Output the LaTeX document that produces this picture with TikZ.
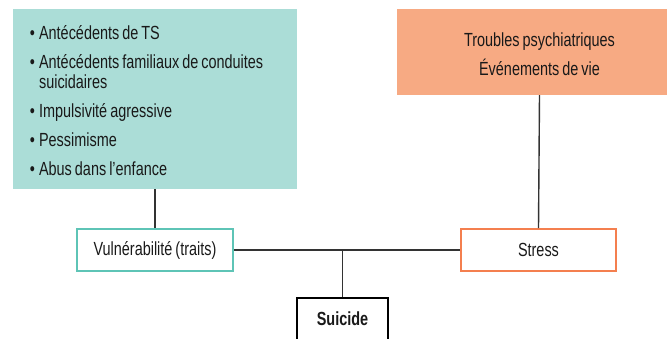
\documentclass[tikz,border=0pt]{standalone}
\usepackage{fontspec}
\setmainfont{Liberation Sans}[FakeStretch=0.76, WordSpace=0.75]
\usepackage{tikz}
\usetikzlibrary{positioning}
\definecolor{vert}{HTML}{ABDDD7}
\definecolor{vertbord}{HTML}{5EC4B6}
\definecolor{orange}{HTML}{F7AA83}
\definecolor{orangebord}{HTML}{F47F4F}
\definecolor{trait}{HTML}{333333}
\tikzset{
  texte/.style={font=\fontsize{19}{20}\selectfont, text=black!90},
  boite/.style={texte, draw, line width=1.6pt, inner sep=0pt, minimum height=42pt},
  lien/.style={draw=trait, line width=1.4pt}
}

\begin{document}
\begin{tikzpicture}[x=1pt,y=-1pt]
\useasboundingbox (0,0) rectangle (667,338);
\node[texte, fill=vert, inner xsep=17pt, inner ysep=0pt, text width=250pt, minimum height=180pt, align=left] (facteurs) at (155,99) {%
\spaceskip=0pt \xspaceskip=0pt
\begin{tabular}{@{}l@{\hspace{4pt}}l@{}}
\rule{0pt}{22pt}\textbullet & Antécédents de TS\\[9pt]
\textbullet & Antécédents familiaux de conduites\\[0pt]
 & suicidaires\\[9pt]
\textbullet & Impulsivité agressive\\[9pt]
\textbullet & Pessimisme\\[9pt]
\textbullet & Abus dans l’enfance
\end{tabular}};
\node[texte, fill=orange, inner sep=0pt, minimum width=285pt, minimum height=86pt, align=center] (troubles) at (539.5,52) {\rule{0pt}{18pt}Troubles psychiatriques\\[8pt]Événements de vie};
\node[boite, draw=vertbord, minimum width=156pt] (vuln) at (155,250) {Vulnérabilité (traits)};
\node[boite, draw=orangebord, minimum width=155pt] (stress) at (538.5,250) {Stress};
\node[boite, draw=black, minimum width=91pt, font=\fontsize{19}{20}\selectfont\bfseries] (suicide) at (342.5,319) {Suicide};
\coordinate (jonction) at (suicide.north |- vuln.east);
\draw[lien] (facteurs.south) -- (vuln.north);
\draw[lien] (troubles.south) -- (stress.north);
\draw[lien] (vuln.east) -- (stress.west);
\draw[lien] (jonction) -- (suicide.north);
\end{tikzpicture}
\end{document}
